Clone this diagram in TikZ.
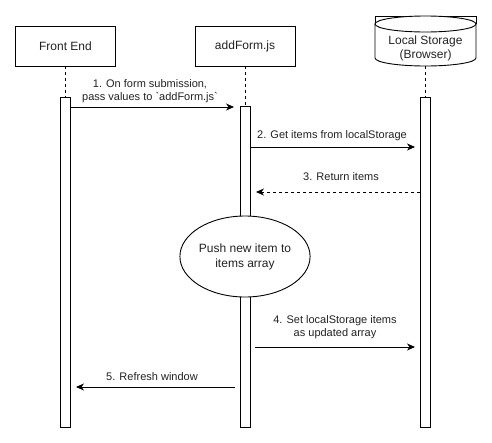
\documentclass[tikz,border=0pt]{standalone}
\usepackage{fontspec}
\setmainfont{Liberation Sans}
\usetikzlibrary{arrows.meta,shapes.geometric}
\definecolor{txt}{HTML}{222222}
\begin{document}
\begin{tikzpicture}[x=1pt,y=-1pt,line width=0.9pt,
  actor/.style={draw,fill=white,minimum width=100pt,minimum height=40pt,inner sep=0pt,
    font=\fontsize{12}{14}\selectfont,text=txt},
  act/.style={draw,fill=white,minimum width=10pt,inner sep=0pt},
  life/.style={dash pattern=on 3pt off 3pt,line width=0.8pt},
  msg/.style={-{Stealth[length=8pt,width=7pt,inset=2.5pt]}},
  reply/.style={msg,dash pattern=on 3pt off 3pt},
  lbl/.style={font=\fontsize{11}{13}\selectfont,text=txt,align=center,inner sep=0pt}]
\useasboundingbox[fill=white] (0,0) rectangle (492,442);

% actors
\node[actor] (fe) at (65.5,46) {Front End};
\node[actor] (af) at (245,46) {addForm.js};
% cylinder for local storage
\draw (375,24) -- (375,16) -- (476,16) -- (476,24);
\draw[fill=white] (375,24) -- (375,58) arc[start angle=180,end angle=360,x radius=50.5pt,y radius=8pt]
  -- (476,24) -- cycle;
\draw[fill=white] (425.5,24) ellipse[x radius=50.5pt,y radius=8pt];
\node[lbl,font=\fontsize{12}{14}\selectfont] (lst) at (425.5,48) {Local Storage\\(Browser)};
\coordinate (lsb) at (425.5,66);

% activations
\node[act,minimum height=330pt] (a1) at (65.5,262) {};
\node[act,minimum height=321pt] (a2) at (245,266.5) {};
\node[act,minimum height=330pt] (a3) at (425.5,262) {};

% lifelines
\draw[life] (fe.south) -- (a1.north);
\draw[life] (af.south) -- (a2.north);
\draw[life] (lsb) -- (a3.north);

% ellipse
\node[draw,fill=white,ellipse,minimum width=120pt,minimum height=81pt,inner sep=0pt,
  font=\fontsize{12}{15}\selectfont,text=txt,align=center] (push) at (245,256.5)
  {Push new item to\\items array};

% message coordinates
\coordinate (m1s) at (a1.east |- 0,107);
\coordinate (m1e) at (234,107);
\coordinate (m2s) at (a2.east |- 0,147);
\coordinate (m2e) at (415,147);
\coordinate (m3s) at (a3.west |- 0,192);
\coordinate (m3e) at (256,192);
\coordinate (m4s) at (255,347);
\coordinate (m4e) at (415,347);
\coordinate (m5s) at (235,387);
\coordinate (m5e) at (76,387);

\draw[msg] (m1s) -- (m1e);
\draw[msg] (m2s) -- (m2e);
\draw[reply] (m3s) -- (m3e);
\draw[msg] (m4s) -- (m4e);
\draw[msg] (m5s) -- (m5e);

% labels
\node[lbl] (l1) at (150,91.5) {1. On form submission,\\pass values to \textasciigrave addForm.js\textasciigrave};
\node[lbl] (l2) at (332,136) {2. Get items from localStorage};
\node[lbl] (l3) at (341,177) {3. Return items};
\node[lbl] (l4) at (335,327) {4. Set localStorage items\\as updated array};
\node[lbl] (l5) at (152,377) {5. Refresh window};
\end{tikzpicture}
\end{document}
